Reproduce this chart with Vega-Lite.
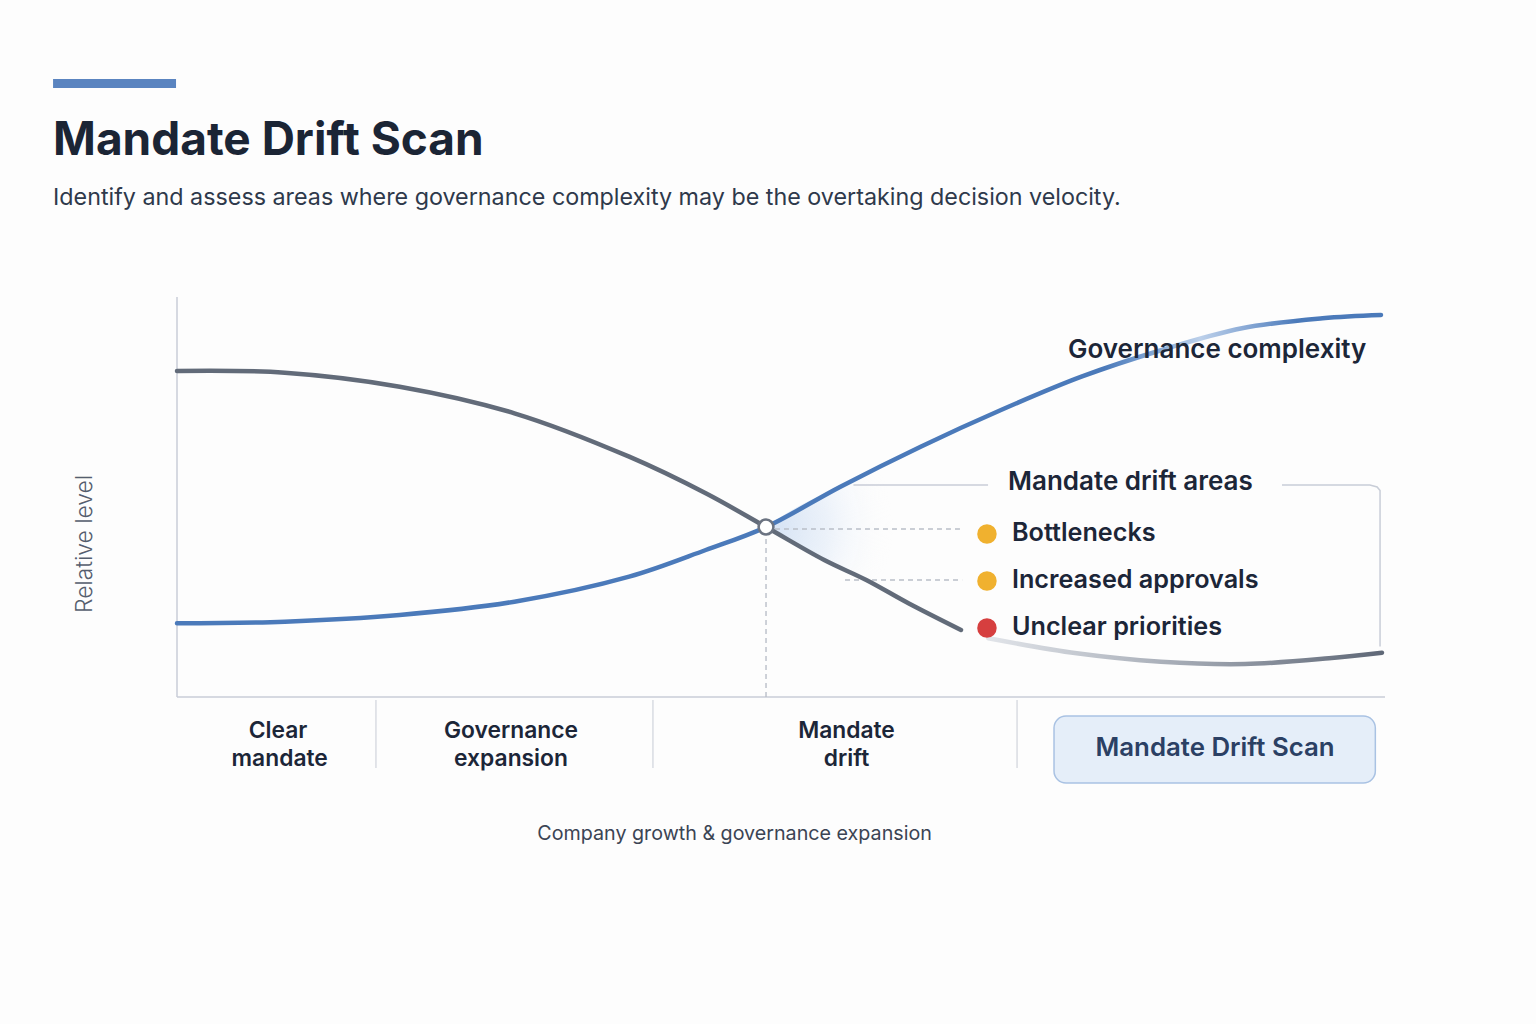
{
  "$schema": "https://vega.github.io/schema/vega-lite/v6.json",
  "width": 1208,
  "height": 400,
  "autosize": {"type": "none"},
  "padding": {"left": 177, "top": 297, "right": 151, "bottom": 327},
  "background": "#fdfdfd",
  "config": {"view": {"stroke": null}, "font": "Inter"},
  "encoding": {
    "x": {"field": "x", "type": "quantitative", "scale": {"domain": [0, 100], "nice": false, "zero": false}, "axis": null},
    "y": {"field": "y", "type": "quantitative", "scale": {"domain": [0, 100], "nice": false, "zero": false}, "axis": null}
  },
  "layer": [
    {
      "data": {"values": [
        {"x": 48.76, "y": 42.5, "y2": 42.5},
        {"x": 50.5, "y": 46, "y2": 39.6},
        {"x": 53.58, "y": 51, "y2": 34.25},
        {"x": 57.06, "y": 56.5, "y2": 29.25},
        {"x": 60.55, "y": 62, "y2": 23.43},
        {"x": 62.5, "y": 64.5, "y2": 20.5}
      ]},
      "mark": {"type": "area", "interpolate": "monotone",
        "fill": {"gradient": "radial", "x1": 0, "y1": 0.5, "r1": 0, "x2": 0, "y2": 0.5, "r2": 0.75, "stops": [
          {"offset": 0, "color": "rgba(200,218,242,0.85)"},
          {"offset": 0.5, "color": "rgba(218,230,246,0.5)"},
          {"offset": 1, "color": "rgba(253,253,253,0)"}]}},
      "encoding": {"y2": {"field": "y2"}}
    },
    {
      "data": {"values": [{"x": 0, "y": 0, "x2": 0, "y2": 100}, {"x": 0, "y": 0, "x2": 100, "y2": 0}]},
      "mark": {"type": "rule", "color": "#c8cdd7", "strokeWidth": 1.5},
      "encoding": {"x2": {"field": "x2"}, "y2": {"field": "y2"}}
    },
    {
      "data": {"values": [{"x": 16.47, "y": -0.75, "y2": -17.75}, {"x": 39.4, "y": -0.75, "y2": -17.75}, {"x": 69.54, "y": -0.75, "y2": -17.75}]},
      "mark": {"type": "rule", "color": "#d0d4dc", "strokeWidth": 1.2},
      "encoding": {"y2": {"field": "y2"}}
    },
    {
      "data": {"values": [{"x": 48.76, "y": 0, "x2": 48.76, "y2": 42.5}, {"x": 49.5, "y": 42, "x2": 65, "y2": 42}, {"x": 55.3, "y": 29.25, "x2": 65, "y2": 29.25}]},
      "mark": {"type": "rule", "color": "#b9bec8", "strokeWidth": 1.4, "strokeDash": [5, 4]},
      "encoding": {"x2": {"field": "x2"}, "y2": {"field": "y2"}}
    },
    {
      "data": {"values": [
        {"seg": "a", "o": 1, "x": 56.0, "y": 53},
        {"seg": "a", "o": 2, "x": 67.14, "y": 53},
        {"seg": "b", "o": 1, "x": 91.47, "y": 53},
        {"seg": "b", "o": 2, "x": 98.75, "y": 53},
        {"seg": "b", "o": 3, "x": 99.35, "y": 52.5},
        {"seg": "b", "o": 4, "x": 99.59, "y": 51.6},
        {"seg": "b", "o": 5, "x": 99.59, "y": 12.6}
      ]},
      "mark": {"type": "line", "color": "#c8cdd7", "strokeWidth": 1.5},
      "encoding": {"detail": {"field": "seg"}, "order": {"field": "o"}}
    },
    {
      "data": {"values": [
        {"x": 0, "y": 81.5}, {"x": 8.92, "y": 81.08}, {"x": 18.43, "y": 77.58}, {"x": 27.93, "y": 70.93},
        {"x": 37.43, "y": 60.08}, {"x": 43.77, "y": 50.93}, {"x": 48.76, "y": 42.5}, {"x": 53.58, "y": 34.25},
        {"x": 57.06, "y": 29.25}, {"x": 60.55, "y": 23.43}, {"x": 64.9, "y": 16.75}
      ]},
      "mark": {"type": "line", "color": "#626b79", "strokeWidth": 4.5, "strokeCap": "round", "interpolate": "catmull-rom"}
    },
    {
      "data": {"values": [
        {"x": 67.16, "y": 14.68}, {"x": 74.48, "y": 10.93}, {"x": 81.45, "y": 8.83},
        {"x": 88.41, "y": 8.25}, {"x": 95.36, "y": 9.68}, {"x": 99.75, "y": 11.08}
      ]},
      "mark": {"type": "line", "strokeWidth": 4.5, "strokeCap": "round", "interpolate": "catmull-rom",
        "color": {"gradient": "linear", "x1": 0, "y1": 0, "x2": 1, "y2": 0, "stops": [
          {"offset": 0, "color": "#e1e4e9"},
          {"offset": 0.45, "color": "#a9afb9"},
          {"offset": 1, "color": "#5f6877"}]}}
    },
    {
      "data": {"values": [
        {"x": 0, "y": 18.43}, {"x": 8.92, "y": 18.83}, {"x": 18.43, "y": 20.5}, {"x": 27.93, "y": 23.83},
        {"x": 37.43, "y": 30.08}, {"x": 43.77, "y": 36.75}, {"x": 48.76, "y": 42.5}, {"x": 54.92, "y": 52.58},
        {"x": 61.56, "y": 62.58}, {"x": 68.21, "y": 71.75}, {"x": 74.87, "y": 80.08}, {"x": 81.52, "y": 86.75},
        {"x": 88.16, "y": 92.18}, {"x": 94.83, "y": 94.68}, {"x": 99.67, "y": 95.5}
      ]},
      "mark": {"type": "line", "strokeWidth": 4.5, "strokeCap": "round", "interpolate": "catmull-rom",
        "color": {"gradient": "linear", "x1": 0, "y1": 0, "x2": 1, "y2": 0, "stops": [
          {"offset": 0, "color": "#4b7aba"},
          {"offset": 0.77, "color": "#4b7aba"},
          {"offset": 0.82, "color": "#8fb0da"},
          {"offset": 0.85, "color": "#bcd0ea"},
          {"offset": 0.89, "color": "#86a7d4"},
          {"offset": 0.93, "color": "#4b7aba"},
          {"offset": 1, "color": "#4b7aba"}]}}
    },
    {
      "data": {"values": [{"x": 48.76, "y": 42.5}]},
      "mark": {"type": "point", "filled": true, "fill": "#ffffff", "stroke": "#6b7381", "strokeWidth": 2.5, "size": 220, "opacity": 1}
    },
    {
      "data": {"values": [
        {"x": 67.05, "y": 40.75, "level": "watch"},
        {"x": 67.05, "y": 29, "level": "watch"},
        {"x": 67.05, "y": 17.25, "level": "critical"}
      ]},
      "mark": {"type": "circle", "size": 380, "opacity": 1},
      "encoding": {"color": {"field": "level", "type": "nominal", "scale": {"domain": ["watch", "critical"], "range": ["#f0b12f", "#d63f3f"]}, "legend": null}}
    },
    {
      "data": {"values": [
        {"x": 69.12, "y": 41, "label": "Bottlenecks"},
        {"x": 69.12, "y": 29.25, "label": "Increased approvals"},
        {"x": 69.12, "y": 17.5, "label": "Unclear priorities"}
      ]},
      "mark": {"type": "text", "align": "left", "baseline": "middle", "fontSize": 25.2, "fontWeight": 600, "color": "#1c2638"},
      "encoding": {"text": {"field": "label"}}
    },
    {
      "data": {"values": [
        {"x": 68.79, "y": 53.75, "label": "Mandate drift areas"},
        {"x": 73.76, "y": 86.75, "label": "Governance complexity"}
      ]},
      "mark": {"type": "text", "align": "left", "baseline": "middle", "fontSize": 26, "fontWeight": 600, "color": "#1c2638"},
      "encoding": {"text": {"field": "label"}}
    },
    {
      "data": {"values": [
        {"x": 8.36, "y": -8.5, "label": "Clear"},
        {"x": 8.5, "y": -15.5, "label": "mandate"},
        {"x": 27.65, "y": -8.5, "label": "Governance"},
        {"x": 27.65, "y": -15.5, "label": "expansion"},
        {"x": 55.42, "y": -8.5, "label": "Mandate"},
        {"x": 55.42, "y": -15.5, "label": "drift"}
      ]},
      "mark": {"type": "text", "align": "center", "baseline": "middle", "fontSize": 22.8, "fontWeight": 600, "color": "#1c2638"},
      "encoding": {"text": {"field": "label"}}
    },
    {
      "data": {"values": [{"x": 72.6, "x2": 99.2, "y": -4.75, "y2": -21.5}]},
      "mark": {"type": "rect", "fill": "#e5eef9", "stroke": "#a9c2e3", "strokeWidth": 1.5, "cornerRadius": 12},
      "encoding": {"x2": {"field": "x2"}, "y2": {"field": "y2"}}
    },
    {
      "data": {"values": [{"x": 85.93, "y": -12.75, "label": "Mandate Drift Scan"}]},
      "mark": {"type": "text", "align": "center", "baseline": "middle", "fontSize": 25.8, "fontWeight": 600, "color": "#2b4064"},
      "encoding": {"text": {"field": "label"}}
    },
    {
      "data": {"values": [{"x": 46.16, "y": -34.25, "label": "Company growth & governance expansion"}]},
      "mark": {"type": "text", "align": "center", "baseline": "middle", "fontSize": 19.7, "fontWeight": 400, "color": "#3b4454"},
      "encoding": {"text": {"field": "label"}}
    },
    {
      "data": {"values": [{"x": -7.62, "y": 38.25, "label": "Relative level"}]},
      "mark": {"type": "text", "align": "center", "baseline": "middle", "angle": 270, "fontSize": 22.8, "fontWeight": 300, "color": "#555e6e"},
      "encoding": {"text": {"field": "label"}}
    },
    {
      "data": {"values": [{"x": -10.26, "x2": -0.08, "y": 152.25, "y2": 154.5}]},
      "mark": {"type": "rect", "fill": "#5a84c0"},
      "encoding": {"x2": {"field": "x2"}, "y2": {"field": "y2"}}
    },
    {
      "data": {"values": [{"x": -10.26, "y": 135.5, "label": "Mandate Drift Scan"}]},
      "mark": {"type": "text", "align": "left", "baseline": "alphabetic", "fontSize": 46, "fontWeight": 700, "color": "#1b2535"},
      "encoding": {"text": {"field": "label"}}
    },
    {
      "data": {"values": [{"x": -10.26, "y": 123, "label": "Identify and assess areas where governance complexity may be the overtaking decision velocity."}]},
      "mark": {"type": "text", "align": "left", "baseline": "alphabetic", "fontSize": 23.3, "fontWeight": 400, "color": "#2e394b"},
      "encoding": {"text": {"field": "label"}}
    }
  ]
}
